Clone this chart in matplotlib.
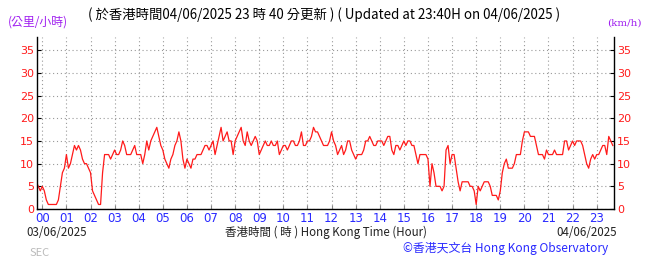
import numpy as np
import matplotlib
matplotlib.use("Agg")
from matplotlib import pyplot as plt

# Wind speed (km/h), 5-minute readings from 23:45 on 03/06 to 23:40 on 04/06
start_minute = -15
step_minutes = 5
speeds = [
    6, 5, 4,
    5, 4, 2, 1, 1, 1, 1, 1, 2, 5, 8, 9,            # 00
    12, 9, 10, 12, 14, 13, 14, 13, 11, 10, 10, 9,  # 01
    8, 4, 3, 2, 1, 1, 8, 12, 12, 12, 11, 12,       # 02
    13, 12, 12, 13, 15, 14, 12, 12, 12, 13, 14, 12,  # 03
    12, 12, 10, 12, 15, 13, 15, 16, 17, 18, 16, 14,  # 04
    13, 11, 10, 9, 11, 12, 14, 15, 17, 15, 11, 9,  # 05
    11, 10, 9, 11, 11, 12, 12, 12, 13, 14, 14, 13,  # 06
    14, 15, 12, 14, 16, 18, 15, 16, 17, 15, 15, 12,  # 07
    15, 16, 17, 18, 15, 14, 17, 15, 14, 15, 16, 15,  # 08
    12, 13, 14, 15, 14, 14, 15, 14, 14, 15, 12, 13,  # 09
    14, 14, 13, 14, 15, 15, 14, 14, 15, 17, 14, 14,  # 10
    15, 15, 16, 18, 17, 17, 16, 15, 14, 14, 14, 15,  # 11
    17, 15, 14, 12, 13, 14, 12, 13, 15, 15, 13, 12,  # 12
    11, 12, 12, 12, 13, 15, 15, 16, 15, 14, 14, 15,  # 13
    15, 15, 14, 15, 16, 16, 13, 12, 14, 14, 13, 14,  # 14
    15, 14, 15, 15, 14, 14, 12, 10, 12, 12, 12, 12,  # 15
    11, 5, 10, 8, 5, 5, 5, 4, 5, 13, 14, 10,       # 16
    12, 12, 9, 6, 4, 6, 6, 6, 6, 5, 5, 4,          # 17
    1, 5, 4, 5, 6, 6, 6, 5, 3, 3, 3, 2,            # 18
    4, 8, 10, 11, 9, 9, 9, 10, 12, 12, 12, 15,     # 19
    17, 17, 17, 16, 16, 16, 14, 12, 12, 12, 11, 13,  # 20
    12, 12, 12, 13, 12, 12, 12, 12, 15, 15, 13, 14,  # 21
    15, 14, 15, 15, 15, 14, 12, 10, 9, 11, 12, 11,  # 22
    12, 12, 13, 14, 14, 12, 16, 15, 14,            # 23
]
hour_labels = [f"{h:02d}" for h in range(24)]
speed_ticks = [0, 5, 10, 15, 20, 25, 30, 35]

title_text = "( 於香港時間04/06/2025 23 時 40 分更新 ) ( Updated at 23:40H on 04/06/2025 )"
unit_zh = "(公里/小時)"
unit_en = "(km/h)"
start_date = "03/06/2025"
end_date = "04/06/2025"
xlabel_text = "香港時間 ( 時 ) Hong Kong Time (Hour)"
credit_text = "©香港天文台 Hong Kong Observatory"

CJK = ["Noto Sans CJK TC", "DejaVu Sans"]
RED = "#ff1a1a"
BLUE = "#2a2aff"
PURPLE = "#a020f0"

hours = (start_minute + step_minutes * np.arange(len(speeds))) / 60.0

fig = plt.figure(figsize=(6.55, 2.59), dpi=100)
ax = fig.add_axes([0.0565, 0.193, 0.881, 0.664])

ax.plot(hours, speeds, color=RED, lw=0.9)

ax.set_xlim(-0.22, 23.72)
ax.set_ylim(0, 37.9)
ax.set_xticks(range(24))
ax.set_xticklabels(hour_labels)
ax.set_yticks(speed_ticks)

ax.grid(True, color="#999999", linestyle=(0, (1, 2.5)), lw=0.8)
ax.spines["top"].set_visible(False)
for s in ["left", "right", "bottom"]:
    ax.spines[s].set_linewidth(1.0)
    ax.spines[s].set_color("black")

ax.tick_params(axis="x", direction="in", length=3, colors="#888888",
               labelcolor=BLUE, labelsize=8.5, pad=2)
ax.tick_params(axis="y", direction="in", length=3, colors="black",
               labelcolor=RED, labelsize=8, pad=2,
               left=True, right=True, labelleft=True, labelright=True)

fig.text(0.012, 0.9, unit_zh, color=PURPLE, fontsize=8.6, family=CJK)
fig.text(0.927, 0.9, unit_en, color=PURPLE, fontsize=7.5, family="DejaVu Serif")
fig.text(0.134, 0.925, title_text, color="black", fontsize=9.6, family=CJK)

fig.text(0.041, 0.09, start_date, color="#222222", fontsize=8.3, family=CJK)
fig.text(0.497, 0.09, xlabel_text, color="#222222", fontsize=8.3,
         family=CJK, ha="center")
fig.text(0.942, 0.09, end_date, color="#222222", fontsize=8.3, family=CJK,
         ha="right")
fig.text(0.045, 0.012, "SEC", color="#bbbbbb", fontsize=8, family=CJK)
fig.text(0.928, 0.028, credit_text, color=BLUE, fontsize=8.6, family=CJK,
         ha="right")

fig.savefig("out.png", dpi=100)
